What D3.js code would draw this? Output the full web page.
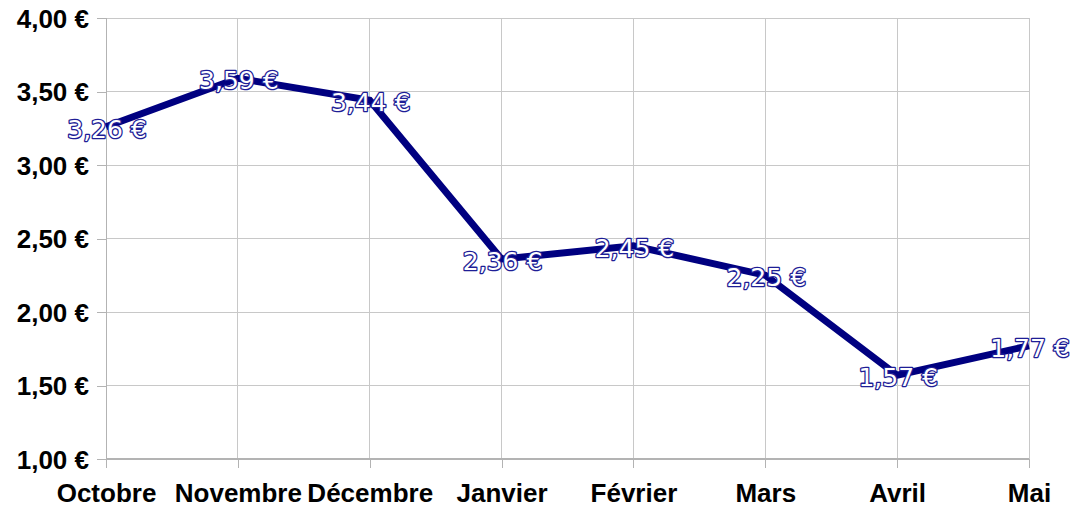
<!DOCTYPE html>
<html><head><meta charset="utf-8">
<script src="https://cdn.jsdelivr.net/npm/d3@7"></script>
<style>body{margin:0;background:#fff}</style>
</head><body>
<svg id="c" width="1071" height="507"></svg>
<script>
const months = ["Octobre","Novembre","Décembre","Janvier","Février","Mars","Avril","Mai"];
const prices = [3.26,3.59,3.44,2.36,2.45,2.25,1.57,1.77];
const yTicks = [1.0,1.5,2.0,2.5,3.0,3.5,4.0];

const svg = d3.select("#c");
const pL = 106, pR = 1029, pT = 18, pB = 459;
const x = d3.scalePoint().domain(months).range([pL, pR]).padding(0);
const y = d3.scaleLinear().domain([1, 4]).range([pB, pT]);
const fmt = v => d3.format(".2f")(v).replace(".", ",") + " €";

// grid
svg.append("g").selectAll("line").data(yTicks).join("line")
  .attr("x1", pL).attr("x2", pR).attr("y1", d => y(d)).attr("y2", d => y(d))
  .attr("stroke", "#c8c8c8").attr("stroke-width", 1).attr("shape-rendering","crispEdges");
svg.append("g").selectAll("line").data(months).join("line")
  .attr("x1", d => x(d)).attr("x2", d => x(d)).attr("y1", pT).attr("y2", pB)
  .attr("stroke", "#c8c8c8").attr("stroke-width", 1).attr("shape-rendering","crispEdges");

// y axis
const ya = svg.append("g").attr("transform", `translate(${pL},0)`)
  .call(d3.axisLeft(y).tickValues(yTicks).tickFormat(fmt).tickSize(9).tickPadding(8));
ya.select(".domain").attr("stroke", "#b3b3b3").attr("d", `M-9,${pT}H0V${pB}H-9`).attr("shape-rendering","crispEdges");
ya.selectAll(".tick line").attr("stroke", "#b3b3b3").attr("shape-rendering","crispEdges");
ya.selectAll("text").attr("font-family", "'Liberation Sans', Arial, sans-serif")
  .attr("font-weight", "bold").attr("font-size", "26px").attr("fill", "#000").attr("dy", "0.35em");

// x axis
const xa = svg.append("g").attr("transform", `translate(0,${pB})`)
  .call(d3.axisBottom(x).tickSize(9).tickPadding(16));
xa.select(".domain").attr("stroke", "#b3b3b3").attr("stroke-width", 2).attr("d", `M${pL},0H${pR}`);
xa.selectAll(".tick line").attr("stroke", "#b3b3b3").attr("shape-rendering","crispEdges");
xa.selectAll("text").attr("font-family", "'Liberation Sans', Arial, sans-serif")
  .attr("font-weight", "bold").attr("font-size", "26px").attr("fill", "#000");

// line
const line = d3.line().x((d, i) => x(months[i])).y(d => y(d));
svg.append("path").datum(prices).attr("d", line)
  .attr("fill", "none").attr("stroke", "#000080").attr("stroke-width", 7)
  .attr("stroke-linejoin", "miter");

// labels
svg.append("g").selectAll("text").data(prices).join("text")
  .attr("x", (d, i) => x(months[i]) + 1).attr("y", d => y(d) + 11)
  .attr("text-anchor", "middle")
  .attr("font-family", "'DejaVu Sans', sans-serif").attr("font-size", "25px")
  .attr("fill", "#fff").attr("stroke", "#1e1e96").attr("stroke-width", 2.6)
  .attr("paint-order", "stroke").attr("stroke-linejoin", "round")
  .text(fmt);
</script>
</body></html>
